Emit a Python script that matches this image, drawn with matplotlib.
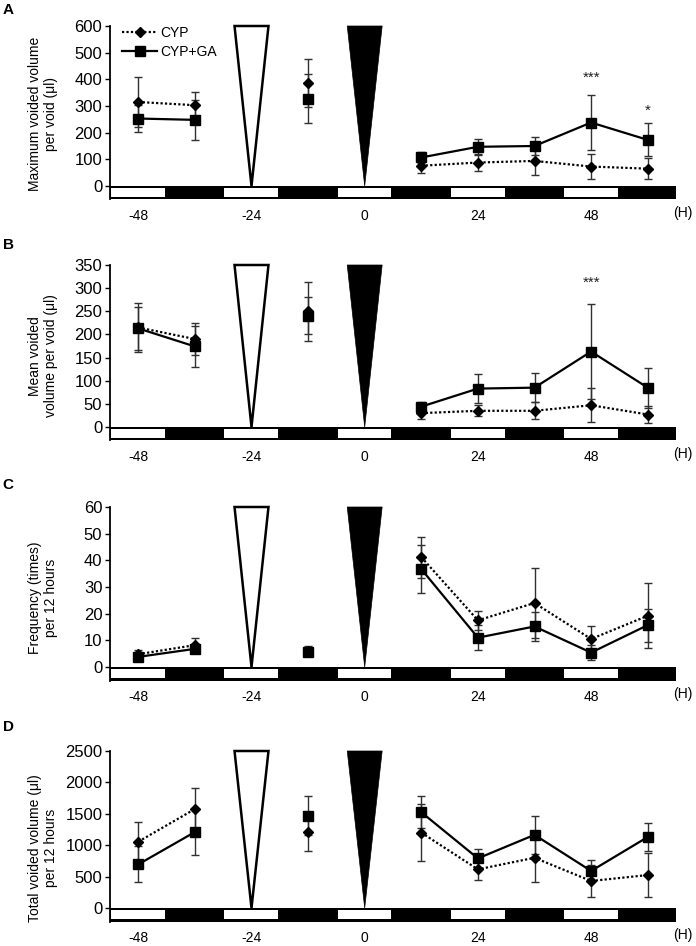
import matplotlib
matplotlib.use("Agg")
import matplotlib.pyplot as plt
from matplotlib.patches import Rectangle, Polygon
from matplotlib.lines import Line2D

plt.rcParams['font.family'] = ['Liberation Sans', 'DejaVu Sans']

# ---------------- data ----------------
hours = [-48, -36, -12, 12, 24, 36, 48, 60]
xtick_vals = [-48, -24, 0, 24, 48]
light_centers = [-48, -24, 0, 24, 48]
series_names = ["CYP", "CYP+GA"]

cyp_a = [315, 303, 388, 76, 88, 94, 73, 65]
cyp_a_err = [95, 50, 90, 28, 31, 54, 48, 40]
ga_a = [253, 248, 328, 107, 147, 150, 238, 173]
ga_a_err = [52, 75, 92, 20, 29, 35, 103, 62]

cyp_b = [215, 190, 250, 30, 35, 35, 47, 27]
cyp_b_err = [52, 34, 64, 13, 12, 18, 37, 18]
ga_b = [213, 174, 240, 44, 83, 85, 163, 85]
ga_b_err = [47, 44, 40, 10, 31, 32, 103, 43]

cyp_c = [4.8, 8.2, 6.0, 41.2, 17.5, 24.0, 10.5, 19.2]
cyp_c_err = [1.7, 2.5, 2.0, 7.7, 3.6, 13.0, 5.0, 12.2]
ga_c = [3.8, 6.8, 5.5, 36.7, 11.0, 15.2, 5.4, 15.7]
ga_c_err = [1.5, 1.5, 1.5, 9.1, 4.6, 5.5, 2.8, 6.2]

cyp_d = [1056, 1576, 1215, 1200, 615, 800, 430, 525]
cyp_d_err = [313, 334, 315, 450, 170, 390, 260, 355]
ga_d = [695, 1210, 1470, 1525, 790, 1165, 590, 1130]
ga_d_err = [286, 366, 310, 258, 150, 300, 175, 230]

ylabels = ["Maximum voided volume\nper void (\u03bcl)",
           "Mean voided\nvolume per void (\u03bcl)",
           "Frequency (times)\nper 12 hours",
           "Total voided volume (\u03bcl)\nper 12 hours"]
panel_letters = ["A", "B", "C", "D"]
ymaxes = [600, 350, 60, 2500]
ysteps = [100, 50, 10, 500]
stars = [[(48, 391, "***"), (60, 268, "*")], [(48, 304, "***")], [], []]

# ---------------- layout (pixels) ----------------
W, H = 696, 946
panel_px = [(26, 186), (265, 427), (507, 667), (751, 908)]  # (top, zero)
label_center_y = [114, 356, 598, 848]
letter_y = [10, 245, 485, 727]
STRIP = 13.5
X0, X1 = -54, 66

fig = plt.figure(figsize=(W / 100, H / 100), dpi=100)

datasets = [(cyp_a, cyp_a_err, ga_a, ga_a_err),
            (cyp_b, cyp_b_err, ga_b, ga_b_err),
            (cyp_c, cyp_c_err, ga_c, ga_c_err),
            (cyp_d, cyp_d_err, ga_d, ga_d_err)]

segments = [(0, 2), (2, 3), (3, 8)]

for i in range(4):
    top, zero = panel_px[i]
    bottom = zero + STRIP
    ax = fig.add_axes([110 / W, 1 - bottom / H, 566 / W, (bottom - top) / H])
    ymax = ymaxes[i]
    u = ymax / (zero - top)  # data units per pixel
    d = STRIP * u
    ax.set_xlim(X0, X1)
    ax.set_ylim(-d, ymax)

    for s in ['top', 'right', 'bottom']:
        ax.spines[s].set_visible(False)
    ax.spines['left'].set_linewidth(1.3)
    ax.set_yticks(range(0, ymax + 1, ysteps[i]))
    ax.tick_params(axis='y', direction='out', length=3.5, width=1, pad=2, labelsize=12)
    ax.set_xticks(xtick_vals)
    ax.set_xticklabels([str(v) for v in xtick_vals])
    ax.tick_params(axis='x', length=0, pad=7, labelsize=10)

    # day/night strip
    ax.add_patch(Rectangle((X0, -d), X1 - X0, d + 0.3 * u, facecolor='black',
                           edgecolor='none', zorder=2, clip_on=False))
    for c in light_centers:
        ax.add_patch(Rectangle((c - 5.75, -d + 2.8 * u), 11.4, (STRIP - 5.1) * u,
                               facecolor='white', edgecolor='none', zorder=2.1))

    # injection triangles
    ax.add_patch(Polygon([(-24 - 3.6, ymax), (-24 + 3.6, ymax), (-24, 0)], closed=True,
                         facecolor='white', edgecolor='black', linewidth=1.8,
                         joinstyle='miter', zorder=2, clip_on=False))
    ax.add_patch(Polygon([(0 - 3.7, ymax), (0 + 3.7, ymax), (0, 0)], closed=True,
                         facecolor='black', edgecolor='black', linewidth=0.5,
                         zorder=2, clip_on=False))

    cy, cye, gy, gye = datasets[i]
    ax.errorbar(hours, cy, yerr=cye, fmt='none', ecolor='#303030', elinewidth=1,
                capsize=3, capthick=1, zorder=3)
    ax.errorbar(hours, gy, yerr=gye, fmt='none', ecolor='#303030', elinewidth=1,
                capsize=3, capthick=1, zorder=3)
    for (a, b) in segments:
        ax.plot(hours[a:b], cy[a:b], linestyle=(0, (1, 1)), color='black', linewidth=1.6,
                marker='D', markersize=4.6, markerfacecolor='black', markeredgecolor='black',
                zorder=4)
        ax.plot(hours[a:b], gy[a:b], linestyle='-', color='black', linewidth=1.6,
                marker='s', markersize=6.5, markerfacecolor='black', markeredgecolor='black',
                zorder=4.5)

    for (sx, sy, st) in stars[i]:
        ax.text(sx, sy, st, ha='center', va='baseline', fontsize=11, color='#202020')

    fig.text(43 / W, 1 - label_center_y[i] / H, ylabels[i], rotation=90,
             ha='center', va='center', fontsize=10, linespacing=1.15)
    fig.text(8 / W, 1 - letter_y[i] / H, panel_letters[i], fontsize=11,
             fontweight='bold', ha='center', va='center')
    fig.text(683 / W, 1 - (bottom + 13.5) / H, "(H)", ha='center', va='center', fontsize=10)

    if i == 0:
        handles = [Line2D([], [], linestyle=(0, (1, 1)), color='black', linewidth=1.6,
                          marker='D', markersize=4.6),
                   Line2D([], [], linestyle='-', color='black', linewidth=1.6,
                          marker='s', markersize=6.5)]
        ax.legend(handles, series_names, loc='upper left', bbox_to_anchor=(0.022, 1.0),
                  frameon=False, fontsize=10, handlelength=2.5, handletextpad=0.2,
                  labelspacing=0.35, borderpad=0, borderaxespad=0)

fig.savefig("out.png", dpi=100)
